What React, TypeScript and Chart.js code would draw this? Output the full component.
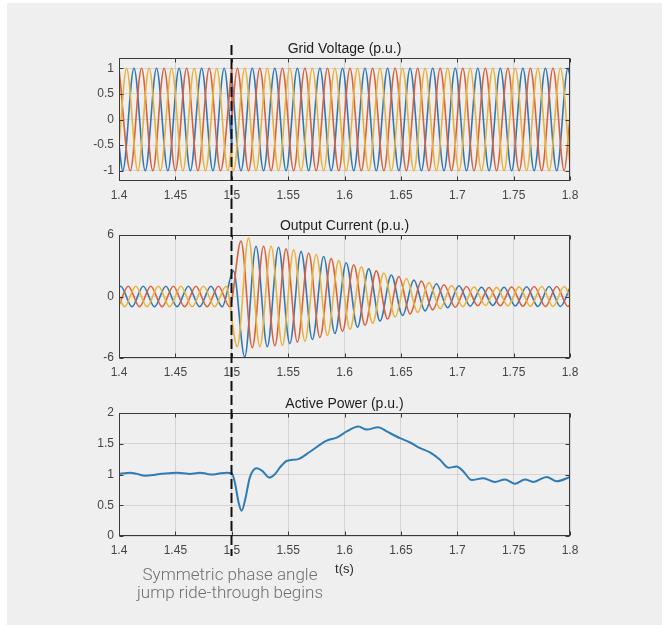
import React, { useEffect, useRef } from 'react';
import { Chart, registerables } from 'chart.js';
Chart.register(...registerables);

// ---------- axes ----------
const xTicks = [1.4, 1.45, 1.5, 1.55, 1.6, 1.65, 1.7, 1.75, 1.8];
const xTickLabels = ['1.4', '1.45', '1.5', '1.55', '1.6', '1.65', '1.7', '1.75', '1.8'];
const voltageTicks = [-1, -0.5, 0, 0.5, 1];
const voltageTickLabels = ['-1', '-0.5', '0', '0.5', '1'];
const currentTicks = [-6, 0, 6];
const currentTickLabels = ['-6', '0', '6'];
const powerTicks = [0, 0.5, 1, 1.5, 2];
const powerTickLabels = ['0', '0.5', '1', '1.5', '2'];

const T_START = 1.4;
const T_JUMP = 1.5;
const T_END = 1.8;
const HALF_CYCLE = 0.01; // half period of the 50 Hz waveforms (s)

// ---------- grid voltage (p.u.): extremum values, one every half cycle ----------
// phase a (blue)
const vBluePreEdge = [-0.5, -0.5]; // value at 1.4 and just before 1.5
const vBluePreFirst = 1.4033;
const vBluePre = [-1, 1, -1, 1, -1, 1, -1, 1, -1, 1];
const vBluePostEdge = [0.84, 0.85]; // value just after 1.5 and at 1.8
const vBluePostFirst = 1.5082;
const vBluePost = [-1, 1, -1, 1, -1, 1, -1, 1, -1, 1, -1, 1, -1, 1, -1, 1, -1, 1, -1, 1, -1, 1, -1, 1, -1, 1, -1, 1, -1, 1];
// phase b (orange)
const vOrangePreEdge = [null, null];
const vOrangePreFirst = 1.4;
const vOrangePre = [1, -1, 1, -1, 1, -1, 1, -1, 1, -1, 1];
const vOrangePostEdge = [0.03, 0.03];
const vOrangePostFirst = 1.5049;
const vOrangePost = [1, -1, 1, -1, 1, -1, 1, -1, 1, -1, 1, -1, 1, -1, 1, -1, 1, -1, 1, -1, 1, -1, 1, -1, 1, -1, 1, -1, 1, -1];
// phase c (yellow)
const vYellowPreEdge = [-0.5, -0.5];
const vYellowPreFirst = 1.4067;
const vYellowPre = [1, -1, 1, -1, 1, -1, 1, -1, 1, -1];
const vYellowPostEdge = [-0.89, -0.89];
const vYellowPostFirst = 1.5015;
const vYellowPost = [-1, 1, -1, 1, -1, 1, -1, 1, -1, 1, -1, 1, -1, 1, -1, 1, -1, 1, -1, 1, -1, 1, -1, 1, -1, 1, -1, 1, -1, 1];

// ---------- output current (p.u.): extremum values, one every half cycle ----------
const iBlueEdge = [0.89, 0.86]; // value at 1.4 and at 1.8
const iBlueFirst = 1.4015;
const iBlue = [1, -1, 1, -1, 1, -1, 1, -1, 1, -1,
  2.5, -5.9, 4.9, -4.9, 4.8, -4.6, 4.4, -4.2, 3.9, -3.6, 3.3, -3.0, 2.7, -2.4, 2.1,
  -1.85, 1.6, -1.4, 1.25, -1.1, 1.05, -0.95, 0.9, -0.88, 0.9, -0.92, 0.95, -0.97, 0.98, -0.97];
const iOrangeEdge = [-0.84, -0.82];
const iOrangeFirst = 1.4082;
const iOrange = [1, -1, 1, -1, 1, -1, 1, -1, 1, -1,
  5.4, -5.0, 4.9, -4.8, 4.65, -4.45, 4.25, -4.0, 3.7, -3.4, 3.1, -2.8, 2.5, -2.2, 1.95,
  -1.7, 1.5, -1.3, 1.15, -1.05, 0.97, -0.9, 0.88, -0.9, 0.92, -0.95, 0.97, -0.98, 0.98, -0.97];
const iYellowEdge = [-0.03, -0.03];
const iYellowFirst = 1.4049;
const iYellow = [-1, 1, -1, 1, -1, 1, -1, 1, -1, 1,
  -4.9, 5.7, -4.9, 4.9, -4.75, 4.55, -4.35, 4.1, -3.8, 3.5, -3.2, 2.9, -2.6, 2.3, -2.0,
  1.75, -1.55, 1.35, -1.2, 1.08, -1.0, 0.92, -0.88, 0.89, -0.91, 0.94, -0.96, 0.98, -0.98, 0.97];

// ---------- active power (p.u.) ----------
const powerTimes = [1.4, 1.405, 1.41, 1.416, 1.423, 1.43, 1.436, 1.444, 1.451, 1.457, 1.463, 1.468, 1.472,
  1.478, 1.484, 1.49, 1.4955, 1.5, 1.503, 1.506, 1.5088, 1.512, 1.516, 1.5221, 1.527, 1.5333, 1.538,
  1.543, 1.5487, 1.559, 1.5694, 1.5842, 1.5931, 1.602, 1.6123, 1.6197, 1.63, 1.6374, 1.6492, 1.6581,
  1.667, 1.6758, 1.6847, 1.6921, 1.6995, 1.7054, 1.7128, 1.7231, 1.7335, 1.7424, 1.7512, 1.7601,
  1.7675, 1.7793, 1.7882, 1.8];
const powerValues = [1.01, 1.02, 1.03, 1.01, 0.98, 0.99, 1.01, 1.02, 1.03, 1.02, 1.01, 1.02, 1.03,
  1.01, 1.0, 1.02, 1.03, 1.02, 0.85, 0.55, 0.41, 0.6, 0.95, 1.1, 1.06, 0.95, 1.0,
  1.12, 1.22, 1.25, 1.37, 1.55, 1.6, 1.7, 1.78, 1.73, 1.77, 1.7, 1.59, 1.52,
  1.43, 1.36, 1.24, 1.11, 1.13, 1.05, 0.91, 0.94, 0.88, 0.92, 0.85, 0.92,
  0.88, 0.96, 0.89, 0.96];

const BLUE = '#2f78b5';
const ORANGE = '#d9623b';
const YELLOW = '#e8b23c';
const FONT = '"Liberation Sans", Arial, Helvetica, sans-serif';

type Pt = { x: number; y: number };

function wave(edge: (number | null)[], first: number, extrema: number[], t0: number, t1: number): Pt[] {
  const pts: Pt[] = [];
  if (edge[0] !== null) pts.push({ x: t0, y: edge[0] as number });
  extrema.forEach((v, k) => pts.push({ x: +(first + k * HALF_CYCLE).toFixed(5), y: v }));
  if (edge[1] !== null) pts.push({ x: t1, y: edge[1] as number });
  return pts;
}

function line(data: Pt[], color: string, order: number, width = 1.6, smooth = true) {
  return {
    data,
    borderColor: color,
    borderWidth: width,
    pointRadius: 0,
    fill: false,
    order,
    tension: 0,
    cubicInterpolationMode: smooth ? 'monotone' : 'default',
  };
}

const framePlugin = {
  id: 'frame',
  afterDraw(chart: any, _args: any, opts: any) {
    const { ctx, chartArea: a, scales } = chart;
    const L = Math.round(a.left) + 0.5;
    const R = Math.round(a.right) - 0.5;
    const T = Math.round(a.top) + 0.5;
    const B = Math.round(a.bottom) - 0.5;
    ctx.save();
    ctx.strokeStyle = '#3a3a3a';
    ctx.lineWidth = 1;
    ctx.strokeRect(L, T, R - L, B - T);
    const tl = 4;
    ctx.beginPath();
    scales.x.ticks.forEach((t: any) => {
      const px = Math.round(scales.x.getPixelForValue(t.value)) + 0.5;
      ctx.moveTo(px, B); ctx.lineTo(px, B - tl);
      ctx.moveTo(px, T); ctx.lineTo(px, T + tl);
    });
    scales.y.ticks.forEach((t: any) => {
      const py = Math.round(scales.y.getPixelForValue(t.value)) + 0.5;
      ctx.moveTo(L, py); ctx.lineTo(L + tl, py);
      ctx.moveTo(R, py); ctx.lineTo(R - tl, py);
    });
    ctx.stroke();
    ctx.fillStyle = '#1e1e1e';
    ctx.font = `14px ${FONT}`;
    ctx.textAlign = 'center';
    ctx.textBaseline = 'alphabetic';
    ctx.fillText(opts.title, (a.left + a.right) / 2, a.top - 5);
    if (opts.annotate) {
      const x = Math.round(scales.x.getPixelForValue(T_JUMP)) - 0.5;
      ctx.strokeStyle = '#111';
      ctx.lineWidth = 2;
      ctx.setLineDash([10, 4]);
      ctx.beginPath();
      ctx.moveTo(x, 45);
      ctx.lineTo(x, 556);
      ctx.stroke();
      ctx.setLineDash([]);
      ctx.fillStyle = '#2a2a2a';
      ctx.font = `13px ${FONT}`;
      ctx.fillText('t(s)', (a.left + a.right) / 2, 573);
      ctx.fillStyle = '#6f6f6f';
      ctx.font = '300 17px Roboto, "Noto Sans", sans-serif';
      ctx.fillText('Symmetric phase angle', 230, 580);
      ctx.fillText('jump ride-through begins', 230, 598);
    }
    ctx.restore();
  },
};

function makeConfig(datasets: any[], yMin: number, yMax: number, yT: number[], yL: string[],
  top: number, bottom: number, title: string, annotate: boolean) {
  return {
    type: 'line',
    data: { datasets },
    plugins: [framePlugin],
    options: {
      responsive: false,
      animation: false,
      events: [],
      layout: { padding: { left: 79, right: 92, top, bottom: 625 - 30 - bottom } },
      plugins: {
        legend: { display: false },
        tooltip: { enabled: false },
        title: { display: false },
        frame: { title, annotate },
      },
      scales: {
        x: {
          type: 'linear',
          min: T_START,
          max: T_END,
          afterBuildTicks: (s: any) => { s.ticks = xTicks.map((v) => ({ value: v })); },
          afterFit: (s: any) => { s.height = 30; },
          ticks: {
            callback: (_v: any, i: number) => xTickLabels[i],
            autoSkip: false,
            maxRotation: 0,
            padding: 7,
            color: '#454545',
            font: { family: FONT, size: 12 },
          },
          grid: { color: 'rgba(0,0,0,0.11)', drawTicks: false, lineWidth: 1 },
          border: { display: false },
        },
        y: {
          type: 'linear',
          min: yMin,
          max: yMax,
          afterBuildTicks: (s: any) => { s.ticks = yT.map((v) => ({ value: v })); },
          afterFit: (s: any) => { s.width = 40; },
          ticks: {
            callback: (_v: any, i: number) => yL[i],
            autoSkip: false,
            padding: 5,
            color: '#454545',
            font: { family: FONT, size: 12 },
          },
          grid: { color: 'rgba(0,0,0,0.11)', drawTicks: false, lineWidth: 1 },
          border: { display: false },
        },
      },
    },
  };
}

export default function App() {
  const c1 = useRef<HTMLCanvasElement>(null);
  const c2 = useRef<HTMLCanvasElement>(null);
  const c3 = useRef<HTMLCanvasElement>(null);

  useEffect(() => {
    const voltage = [
      line(wave(vBluePreEdge, vBluePreFirst, vBluePre, T_START, T_JUMP), BLUE, 3),
      line(wave(vBluePostEdge, vBluePostFirst, vBluePost, T_JUMP, T_END), BLUE, 3),
      line([{ x: T_JUMP, y: vBluePreEdge[1] as number }, { x: T_JUMP, y: vBluePostEdge[0] as number }], BLUE, 3, 1.6, false),
      line(wave(vOrangePreEdge, vOrangePreFirst, vOrangePre, T_START, T_JUMP), ORANGE, 2),
      line(wave(vOrangePostEdge, vOrangePostFirst, vOrangePost, T_JUMP, T_END), ORANGE, 2),
      line([{ x: T_JUMP, y: vOrangePre[vOrangePre.length - 1] }, { x: T_JUMP, y: vOrangePostEdge[0] as number }], ORANGE, 2, 1.6, false),
      line(wave(vYellowPreEdge, vYellowPreFirst, vYellowPre, T_START, T_JUMP), YELLOW, 1),
      line(wave(vYellowPostEdge, vYellowPostFirst, vYellowPost, T_JUMP, T_END), YELLOW, 1),
      line([{ x: T_JUMP, y: vYellowPreEdge[1] as number }, { x: T_JUMP, y: vYellowPostEdge[0] as number }], YELLOW, 1, 1.6, false),
    ];
    const current = [
      line(wave(iBlueEdge, iBlueFirst, iBlue, T_START, T_END), BLUE, 3),
      line(wave(iOrangeEdge, iOrangeFirst, iOrange, T_START, T_END), ORANGE, 2),
      line(wave(iYellowEdge, iYellowFirst, iYellow, T_START, T_END), YELLOW, 1),
    ];
    const power = [
      line(powerTimes.map((t, i) => ({ x: t, y: powerValues[i] })), '#2f7bb5', 1, 2),
    ];
    const charts = [
      new Chart(c1.current as any, makeConfig(voltage, -1.2, 1.2, voltageTicks, voltageTickLabels, 58, 181, 'Grid Voltage (p.u.)', false) as any),
      new Chart(c2.current as any, makeConfig(current, -6, 6, currentTicks, currentTickLabels, 235, 358, 'Output Current (p.u.)', false) as any),
      new Chart(c3.current as any, makeConfig(power, 0, 2, powerTicks, powerTickLabels, 413, 536, 'Active Power (p.u.)', true) as any),
    ];
    return () => charts.forEach((c) => c.destroy());
  }, []);

  const cv: React.CSSProperties = { position: 'absolute', left: 0, top: 0 };
  return (
    <div style={{ position: 'absolute', left: 0, top: 0, width: 662, height: 625, background: '#ffffff', overflow: 'hidden' }}>
      <div style={{ position: 'absolute', left: 7, top: 3, right: 0, bottom: 0, background: '#efefef' }} />
      <canvas ref={c1} width={662} height={625} style={cv} />
      <canvas ref={c2} width={662} height={625} style={cv} />
      <canvas ref={c3} width={662} height={625} style={cv} />
    </div>
  );
}
